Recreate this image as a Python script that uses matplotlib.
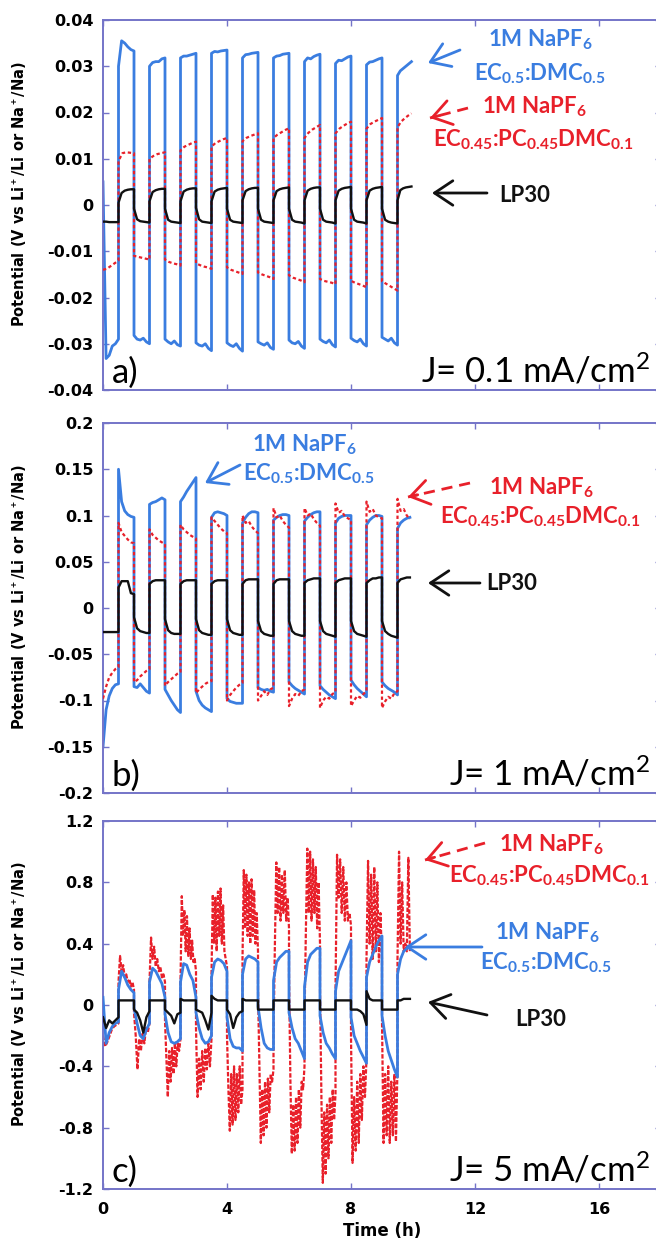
import numpy as np
import matplotlib
matplotlib.use("Agg")
import matplotlib.pyplot as plt
from matplotlib.lines import Line2D
from matplotlib.patches import FancyArrowPatch

# ------------------------------------------------------------------
# Galvanostatic cycling of symmetric cells (Li/Li for LP30, Na/Na for
# the NaPF6 electrolytes).  Each series is stored as half-cycle
# segments: "lo" = stripping (negative) half-cycles, "hi" = plating
# (positive) half-cycles.  Values in V, sampled evenly inside each
# half-cycle.
# ------------------------------------------------------------------
switch_times_h = [0.0, 0.5, 1.0, 1.5, 2.0, 2.5, 3.0, 3.5, 4.0, 4.5,
                  5.0, 5.5, 6.0, 6.5, 7.0, 7.5, 8.0, 8.5, 9.0, 9.5]
end_time_a_h = 9.95
end_time_b_h = 9.9
end_time_c_h = 9.9

# ---- (a) J = 0.1 mA/cm2 ----
a_blue_lo = [
    [0.0050, -0.0332, -0.0325, -0.0305, -0.0300, -0.0290],
    [-0.0282, -0.0290, -0.0292, -0.0288, -0.0296, -0.0300],
    [-0.0290, -0.0296, -0.0300, -0.0294, -0.0302, -0.0305],
    [-0.0298, -0.0303, -0.0305, -0.0300, -0.0310, -0.0315],
    [-0.0298, -0.0303, -0.0306, -0.0300, -0.0310, -0.0316],
    [-0.0296, -0.0300, -0.0303, -0.0298, -0.0308, -0.0312],
    [-0.0292, -0.0298, -0.0300, -0.0295, -0.0305, -0.0310],
    [-0.0290, -0.0295, -0.0298, -0.0292, -0.0302, -0.0307],
    [-0.0288, -0.0293, -0.0296, -0.0290, -0.0300, -0.0305],
    [-0.0286, -0.0290, -0.0294, -0.0288, -0.0298, -0.0303],
]
a_blue_hi = [
    [0.0300, 0.0355, 0.0350, 0.0342, 0.0336, 0.0333],
    [0.0300, 0.0308, 0.0310, 0.0310, 0.0316, 0.0318],
    [0.0318, 0.0322, 0.0322, 0.0324, 0.0326, 0.0328],
    [0.0328, 0.0332, 0.0331, 0.0333, 0.0334, 0.0335],
    [0.0318, 0.0325, 0.0326, 0.0328, 0.0329, 0.0330],
    [0.0318, 0.0322, 0.0323, 0.0326, 0.0327, 0.0328],
    [0.0310, 0.0318, 0.0316, 0.0321, 0.0324, 0.0326],
    [0.0306, 0.0313, 0.0312, 0.0316, 0.0320, 0.0322],
    [0.0303, 0.0309, 0.0310, 0.0313, 0.0316, 0.0318],
    [0.0280, 0.0290, 0.0295, 0.0300, 0.0305, 0.0310],
]
a_red_lo = [
    [-0.0140, -0.0138, -0.0132, -0.0126, -0.0120],
    [-0.0110, -0.0112, -0.0114, -0.0116, -0.0118],
    [-0.0118, -0.0123, -0.0126, -0.0128, -0.0131],
    [-0.0126, -0.0130, -0.0133, -0.0135, -0.0138],
    [-0.0135, -0.0140, -0.0143, -0.0146, -0.0149],
    [-0.0146, -0.0150, -0.0153, -0.0156, -0.0160],
    [-0.0152, -0.0157, -0.0160, -0.0163, -0.0167],
    [-0.0160, -0.0164, -0.0166, -0.0168, -0.0171],
    [-0.0164, -0.0168, -0.0171, -0.0174, -0.0178],
    [-0.0165, -0.0170, -0.0175, -0.0180, -0.0185],
]
a_red_hi = [
    [0.0095, 0.0112, 0.0114, 0.0113, 0.0112],
    [0.0100, 0.0106, 0.0110, 0.0112, 0.0114],
    [0.0118, 0.0126, 0.0130, 0.0134, 0.0137],
    [0.0126, 0.0134, 0.0138, 0.0142, 0.0145],
    [0.0138, 0.0145, 0.0149, 0.0152, 0.0155],
    [0.0145, 0.0152, 0.0157, 0.0162, 0.0166],
    [0.0145, 0.0156, 0.0163, 0.0168, 0.0173],
    [0.0155, 0.0165, 0.0171, 0.0176, 0.0180],
    [0.0165, 0.0175, 0.0180, 0.0184, 0.0188],
    [0.0168, 0.0180, 0.0187, 0.0193, 0.0198],
]
a_black_lo = [
    [-0.0036, -0.0036, -0.0037, -0.0037, -0.0037, -0.0037],
    [-0.0008, -0.0031, -0.0035, -0.0036, -0.0037, -0.0038],
    [-0.0008, -0.0032, -0.0036, -0.0037, -0.0038, -0.0039],
    [-0.0006, -0.0031, -0.0036, -0.0037, -0.0038, -0.0039],
    [-0.0008, -0.0032, -0.0036, -0.0037, -0.0038, -0.0039],
    [-0.0008, -0.0032, -0.0036, -0.0037, -0.0038, -0.0039],
    [-0.0008, -0.0032, -0.0036, -0.0037, -0.0038, -0.0040],
    [-0.0008, -0.0032, -0.0036, -0.0037, -0.0038, -0.0040],
    [-0.0008, -0.0032, -0.0036, -0.0037, -0.0038, -0.0040],
    [-0.0008, -0.0032, -0.0036, -0.0038, -0.0039, -0.0040],
]
a_black_hi = [
    [0.0005, 0.0026, 0.0031, 0.0033, 0.0034, 0.0034],
    [0.0008, 0.0028, 0.0032, 0.0034, 0.0035, 0.0035],
    [0.0008, 0.0029, 0.0033, 0.0035, 0.0036, 0.0036],
    [0.0008, 0.0029, 0.0033, 0.0035, 0.0036, 0.0037],
    [0.0010, 0.0030, 0.0034, 0.0036, 0.0037, 0.0037],
    [0.0010, 0.0030, 0.0034, 0.0036, 0.0037, 0.0038],
    [0.0010, 0.0031, 0.0035, 0.0037, 0.0038, 0.0038],
    [0.0010, 0.0031, 0.0035, 0.0037, 0.0038, 0.0039],
    [0.0010, 0.0031, 0.0035, 0.0037, 0.0038, 0.0039],
    [0.0010, 0.0032, 0.0036, 0.0038, 0.0039, 0.0040],
]

# ---- (b) J = 1 mA/cm2 ----
b_blue_lo = [
    [-0.150, -0.110, -0.095, -0.087, -0.083, -0.082],
    [-0.085, -0.086, -0.082, -0.086, -0.090, -0.092],
    [-0.088, -0.094, -0.100, -0.105, -0.110, -0.113],
    [-0.090, -0.100, -0.105, -0.108, -0.110, -0.112],
    [-0.098, -0.101, -0.102, -0.103, -0.103, -0.103],
    [-0.086, -0.088, -0.089, -0.088, -0.090, -0.091],
    [-0.080, -0.084, -0.087, -0.089, -0.091, -0.093],
    [-0.084, -0.088, -0.091, -0.094, -0.096, -0.098],
    [-0.078, -0.083, -0.087, -0.090, -0.093, -0.096],
    [-0.080, -0.084, -0.087, -0.089, -0.091, -0.094],
]
b_blue_hi = [
    [0.150, 0.115, 0.105, 0.101, 0.099, 0.098],
    [0.112, 0.114, 0.115, 0.117, 0.119, 0.117],
    [0.115, 0.120, 0.126, 0.131, 0.136, 0.141],
    [0.098, 0.103, 0.104, 0.103, 0.102, 0.100],
    [0.092, 0.098, 0.102, 0.104, 0.104, 0.103],
    [0.095, 0.098, 0.100, 0.101, 0.101, 0.100],
    [0.094, 0.098, 0.101, 0.103, 0.104, 0.104],
    [0.092, 0.097, 0.099, 0.100, 0.100, 0.100],
    [0.090, 0.095, 0.098, 0.100, 0.100, 0.099],
    [0.086, 0.092, 0.095, 0.097, 0.098],
]
b_red_lo = [
    [-0.098, -0.085, -0.075, -0.070, -0.066, -0.064],
    [-0.080, -0.078, -0.074, -0.071, -0.068, -0.066],
    [-0.084, -0.080, -0.077, -0.074, -0.071, -0.069],
    [-0.092, -0.088, -0.085, -0.082, -0.080, -0.079],
    [-0.100, -0.094, -0.090, -0.086, -0.083, -0.081],
    [-0.100, -0.095, -0.090, -0.094, -0.088, -0.086],
    [-0.106, -0.098, -0.093, -0.095, -0.090, -0.088],
    [-0.108, -0.100, -0.096, -0.098, -0.093, -0.091],
    [-0.106, -0.100, -0.095, -0.097, -0.093, -0.090],
    [-0.108, -0.101, -0.096, -0.098, -0.092, -0.090],
]
b_red_hi = [
    [0.092, 0.082, 0.078, 0.074, 0.071, 0.070],
    [0.085, 0.079, 0.076, 0.073, 0.071, 0.069],
    [0.090, 0.085, 0.082, 0.079, 0.077, 0.075],
    [0.098, 0.094, 0.090, 0.086, 0.083, 0.081],
    [0.100, 0.092, 0.094, 0.088, 0.084, 0.081],
    [0.108, 0.098, 0.100, 0.094, 0.090, 0.087],
    [0.108, 0.100, 0.102, 0.096, 0.092, 0.089],
    [0.113, 0.103, 0.105, 0.099, 0.097, 0.095],
    [0.115, 0.104, 0.107, 0.100, 0.098, 0.097],
    [0.118, 0.105, 0.107, 0.100, 0.096],
]
b_black_lo = [
    [-0.026, -0.026, -0.026, -0.026, -0.026, -0.026],
    [-0.010, -0.022, -0.025, -0.026, -0.027, -0.027],
    [-0.012, -0.024, -0.027, -0.028, -0.028, -0.028],
    [-0.012, -0.024, -0.027, -0.028, -0.029, -0.029],
    [-0.012, -0.024, -0.027, -0.028, -0.029, -0.029],
    [-0.014, -0.025, -0.028, -0.029, -0.030, -0.030],
    [-0.014, -0.025, -0.028, -0.029, -0.030, -0.030],
    [-0.014, -0.025, -0.028, -0.029, -0.030, -0.031],
    [-0.014, -0.025, -0.028, -0.029, -0.030, -0.031],
    [-0.014, -0.025, -0.028, -0.030, -0.031, -0.032],
]
b_black_hi = [
    [0.022, 0.029, 0.029, 0.029, 0.016, 0.015],
    [0.026, 0.029, 0.030, 0.030, 0.030, 0.030],
    [0.026, 0.029, 0.030, 0.030, 0.030, 0.030],
    [0.026, 0.029, 0.030, 0.030, 0.030, 0.030],
    [0.026, 0.030, 0.031, 0.031, 0.031, 0.031],
    [0.026, 0.030, 0.031, 0.031, 0.031, 0.031],
    [0.027, 0.030, 0.031, 0.032, 0.032, 0.032],
    [0.027, 0.030, 0.031, 0.032, 0.032, 0.032],
    [0.027, 0.030, 0.032, 0.032, 0.033, 0.033],
    [0.027, 0.031, 0.032, 0.033, 0.033],
]

# ---- (c) J = 5 mA/cm2 ----
c_blue_lo = [
    [0.05, -0.25, -0.18, -0.14, -0.12, -0.11],
    [-0.02, -0.12, -0.20, -0.22, -0.16, -0.12],
    [-0.06, -0.18, -0.24, -0.25, -0.24, -0.22],
    [-0.05, -0.15, -0.22, -0.25, -0.24, -0.20],
    [-0.08, -0.22, -0.27, -0.28, -0.28, -0.30],
    [-0.01, -0.15, -0.25, -0.28, -0.29, -0.29],
    [-0.05, -0.15, -0.22, -0.25, -0.30, -0.35],
    [-0.07, -0.18, -0.25, -0.28, -0.32, -0.35],
    [-0.08, -0.20, -0.25, -0.30, -0.34, -0.38],
    [-0.07, -0.20, -0.30, -0.36, -0.42, -0.47],
]
c_blue_hi = [
    [0.10, 0.22, 0.18, 0.13, 0.10, 0.08],
    [0.15, 0.24, 0.22, 0.18, 0.14, 0.05],
    [0.15, 0.27, 0.26, 0.20, 0.16, 0.05],
    [0.18, 0.28, 0.30, 0.29, 0.27, 0.22],
    [0.20, 0.30, 0.32, 0.31, 0.30, 0.28],
    [0.16, 0.28, 0.31, 0.33, 0.35, 0.35],
    [0.12, 0.28, 0.33, 0.35, 0.37, 0.37],
    [0.09, 0.22, 0.27, 0.32, 0.37, 0.42],
    [0.18, 0.28, 0.33, 0.38, 0.42, 0.45],
    [0.20, 0.30, 0.35, 0.37, 0.38],
]
c_red_lo = [
    [-0.20, -0.27, -0.24, -0.20, -0.16, -0.14, -0.13, -0.12],
    [-0.05, -0.20, -0.42, -0.22, -0.30, -0.18, -0.25, -0.15, -0.18, -0.12],
    [-0.10, -0.35, -0.60, -0.30, -0.50, -0.28, -0.45, -0.25, -0.40, -0.25, -0.30, -0.22],
    [-0.15, -0.60, -0.35, -0.55, -0.30, -0.50, -0.28, -0.42, -0.25, -0.40, -0.22],
    [-0.20, -0.55, -0.82, -0.45, -0.78, -0.40, -0.75, -0.45, -0.70, -0.40, -0.65, -0.55],
    [0.10, -0.40, -0.90, -0.55, -0.85, -0.50, -0.80, -0.48, -0.70, -0.45, -0.50, -0.42],
    [0.20, -0.50, -0.97, -0.65, -0.95, -0.60, -0.90, -0.55, -0.80, -0.50, -0.55, -0.40],
    [0.10, -0.60, -1.16, -0.70, -1.10, -0.65, -1.00, -0.60, -0.90, -0.55, -0.75, -0.58],
    [-0.20, -1.03, -0.60, -0.95, -0.50, -0.90, -0.45, -0.75, -0.40, -0.60, -0.35],
    [-0.10, -0.90, -0.45, -0.85, -0.40, -0.90, -0.50, -0.85, -0.45, -0.89, -0.40],
]
c_red_hi = [
    [0.15, 0.32, 0.22, 0.26, 0.18, 0.20, 0.15, 0.17, 0.12, 0.15, 0.10],
    [0.15, 0.44, 0.30, 0.38, 0.25, 0.30, 0.22, 0.25, 0.18, 0.20, 0.15],
    [0.15, 0.71, 0.45, 0.62, 0.35, 0.58, 0.32, 0.50, 0.30, 0.42, 0.28, 0.30, 0.22],
    [0.20, 0.72, 0.40, 0.70, 0.35, 0.74, 0.45, 0.76, 0.40, 0.65, 0.35, 0.30, 0.25],
    [0.30, 0.88, 0.50, 0.85, 0.45, 0.80, 0.40, 0.82, 0.45, 0.75, 0.40, 0.60, 0.35],
    [-0.20, 0.40, 0.93, 0.60, 0.90, 0.55, 0.85, 0.60, 0.88, 0.55, 0.70, 0.50],
    [-0.10, 0.50, 1.02, 0.60, 1.00, 0.55, 0.95, 0.60, 0.90, 0.50, 0.80, 0.40],
    [0.10, 0.98, 0.70, 0.95, 0.60, 0.90, 0.55, 0.80, 0.55, 0.60, 0.52],
    [0.30, 0.94, 0.40, 0.85, 0.30, 0.90, 0.35, 0.80, 0.28, 0.60, 0.30],
    [0.30, 1.00, 0.40, 0.80, 0.35, 0.40, 0.35, 0.96, 0.35],
]
c_black_lo = [
    [-0.08, -0.15, -0.10, -0.12, -0.10, -0.08],
    [-0.03, -0.05, -0.10, -0.18, -0.08, -0.04],
    [-0.03, -0.05, -0.07, -0.12, -0.06, -0.05],
    [-0.03, -0.04, -0.05, -0.10, -0.16, -0.05],
    [-0.03, -0.06, -0.15, -0.08, -0.05, -0.04],
    [-0.03, -0.03, -0.03, -0.03, -0.03, -0.03],
    [-0.03, -0.03, -0.03, -0.03, -0.03, -0.03],
    [-0.03, -0.03, -0.03, -0.03, -0.03, -0.03],
    [-0.03, -0.03, -0.03, -0.04, -0.06, -0.13],
    [-0.03, -0.03, -0.03, -0.03, -0.03, -0.03],
]
c_black_hi = [
    [0.03, 0.03, 0.03, 0.03, 0.03, 0.03],
    [0.03, 0.03, 0.03, 0.03, 0.03, 0.03],
    [0.04, 0.03, 0.03, 0.03, 0.03, 0.03],
    [0.06, 0.04, 0.03, 0.03, 0.03, 0.03],
    [0.04, 0.03, 0.03, 0.03, 0.03, 0.03],
    [0.03, 0.03, 0.03, 0.03, 0.03, 0.03],
    [0.03, 0.03, 0.03, 0.03, 0.03, 0.03],
    [0.03, 0.03, 0.03, 0.03, 0.03, 0.03],
    [0.09, 0.04, 0.03, 0.03, 0.03, 0.03],
    [0.03, 0.03, 0.04, 0.04, 0.04],
]

# axis scales and labels
x_limits = (0, 18)
x_ticks = [0, 4, 8, 12, 16]
a_y_ticks = [-0.04, -0.03, -0.02, -0.01, 0, 0.01, 0.02, 0.03, 0.04]
b_y_ticks = [-0.2, -0.15, -0.1, -0.05, 0, 0.05, 0.1, 0.15, 0.2]
c_y_ticks = [-1.2, -0.8, -0.4, 0, 0.4, 0.8, 1.2]
current_labels = ["J= 0.1 mA/cm$\\mathrm{^2}$", "J= 1 mA/cm$\\mathrm{^2}$",
                  "J= 5 mA/cm$\\mathrm{^2}$"]
panel_letters = ["a)", "b)", "c)"]

# ------------------------------------------------------------------
BLUE = "#3a7de0"
RED = "#e8202a"
BLACK = "#111111"
FRAME = "#7474c8"
W, H = 656, 1243

plt.rcParams["mathtext.fontset"] = "custom"
plt.rcParams["mathtext.rm"] = "Lato"
plt.rcParams["mathtext.bf"] = "Lato:bold"
plt.rcParams["mathtext.default"] = "bf"


def trace(lo_segments, hi_segments, end_h):
    """Concatenate the half-cycle samples into one time/potential trace."""
    ts, vs = [], []
    for k, start in enumerate(switch_times_h):
        seg = lo_segments[k // 2] if k % 2 == 0 else hi_segments[k // 2]
        stop = switch_times_h[k + 1] if k + 1 < len(switch_times_h) else end_h
        ts.extend(np.linspace(start, stop, len(seg)))
        vs.extend(seg)
    return np.array(ts), np.array(vs)


def fig_xy(x, y):
    return (x / W, 1 - y / H)


fig = plt.figure(figsize=(W / 100, H / 100), dpi=100)

# axes boxes in pixel units: left, top, right, bottom
boxes = [(103, 20, 661, 390), (103, 423, 661, 793), (103, 821, 661, 1189)]
axes = []
for (l, t, r, b) in boxes:
    ax = fig.add_axes([l / W, 1 - b / H, (r - l) / W, (b - t) / H])
    axes.append(ax)

panels = [
    (a_blue_lo, a_blue_hi, a_red_lo, a_red_hi, a_black_lo, a_black_hi, end_time_a_h, a_y_ticks),
    (b_blue_lo, b_blue_hi, b_red_lo, b_red_hi, b_black_lo, b_black_hi, end_time_b_h, b_y_ticks),
    (c_blue_lo, c_blue_hi, c_red_lo, c_red_hi, c_black_lo, c_black_hi, end_time_c_h, c_y_ticks),
]

tick_font = dict(family="DejaVu Sans", weight="bold", size=11.5)

for i, (ax, p) in enumerate(zip(axes, panels)):
    blo, bhi, rlo, rhi, klo, khi, end_h, yt = p
    tb, vb = trace(blo, bhi, end_h)
    tr, vr = trace(rlo, rhi, end_h)
    tk, vk = trace(klo, khi, end_h)
    if i < 2:
        ax.plot(tb, vb, color=BLUE, lw=2.0, zorder=2)
        ax.plot(tr, vr, color=RED, lw=1.6, ls=(0, (1.5, 1.2)), zorder=3)
    else:
        ax.plot(tr, vr, color=RED, lw=1.6, ls=(0, (2, 0.8)), zorder=2)
        ax.plot(tb, vb, color=BLUE, lw=2.0, zorder=3)
    ax.plot(tk, vk, color=BLACK, lw=1.7, zorder=4)

    ax.set_xlim(*x_limits)
    ax.set_ylim(yt[0], yt[-1])
    ax.set_xticks(x_ticks)
    ax.set_yticks(yt)
    ax.set_yticklabels([f"{v:g}" for v in yt], **tick_font)
    if i == 2:
        ax.set_xticklabels([str(v) for v in x_ticks], **tick_font)
        ax.set_xlabel("Time (h)", family="DejaVu Sans", weight="bold", size=12, labelpad=4)
    else:
        ax.set_xticklabels([])
    ax.tick_params(direction="in", length=4, width=1, color=FRAME,
                   top=True, right=True, pad=7)
    ax.tick_params(axis="x", pad=9)
    for s in ax.spines.values():
        s.set_color(FRAME)
        s.set_linewidth(1.4)
    ax.set_ylabel("Potential (V vs Li$\\mathbf{^+}$/Li or Na$\\mathbf{^+}$/Na)",
                  family="DejaVu Sans", weight="bold", size=10.5)
    ax.yaxis.set_label_coords(-0.134, 0.53)

    ax.text(0.016, 0.02, panel_letters[i], transform=ax.transAxes,
            family="Lato", size=25, ha="left", va="baseline")
    ax.text(547 / 558, 0.02, current_labels[i], transform=ax.transAxes,
            family="Lato", size=25, ha="right", va="baseline")

# ---- electrolyte labels and arrows ----
lbl = dict(family="Lato", weight="bold", size=16, ha="center", va="center")
na_salt = "1M NaPF$_6$"
ec_dmc = "EC$_{0.5}$:DMC$_{0.5}$"
ec_pc_dmc = "EC$_{0.45}$:PC$_{0.45}$DMC$_{0.1}$"


def arrow(tail, head, color, dashed=False):
    """Pointer from a label to its curve; dashed shaft keeps a solid head."""
    if dashed:
        (x0, y0), (x1, y1) = tail, head
        fig.add_artist(Line2D([x0 / W, x1 / W], [1 - y0 / H, 1 - y1 / H],
                              transform=fig.transFigure, color=color, lw=2,
                              ls=(0, (4, 2.5))))
        f = 10 / np.hypot(x1 - x0, y1 - y0)
        tail = (x1 - (x1 - x0) * f, y1 - (y1 - y0) * f)
    fig.add_artist(FancyArrowPatch(
        fig_xy(*tail), fig_xy(*head), transform=fig.transFigure,
        arrowstyle="->,head_length=6,head_width=4", lw=2, color=color,
        mutation_scale=2.2, shrinkA=0, shrinkB=0))


# panel a
fig.text(*fig_xy(540, 40), na_salt, color=BLUE, **lbl)
fig.text(*fig_xy(540, 74), ec_dmc, color=BLUE, **lbl)
fig.text(*fig_xy(534, 107), na_salt, color=RED, **lbl)
fig.text(*fig_xy(533, 140), ec_pc_dmc, color=RED, **lbl)
fig.text(*fig_xy(525, 195), "LP30", color=BLACK, **lbl)
arrow((460, 50), (428, 63), BLUE)
arrow((468, 108), (430, 118), RED, dashed=True)
arrow((487, 193), (432, 193), BLACK)

# panel b
fig.text(*fig_xy(304, 445), na_salt, color=BLUE, **lbl)
fig.text(*fig_xy(309, 474), ec_dmc, color=BLUE, **lbl)
fig.text(*fig_xy(541, 488), na_salt, color=RED, **lbl)
fig.text(*fig_xy(540, 517), ec_pc_dmc, color=RED, **lbl)
fig.text(*fig_xy(512, 583), "LP30", color=BLACK, **lbl)
arrow((240, 465), (205, 483), BLUE)
arrow((470, 483), (408, 497), RED, dashed=True)
arrow((480, 583), (428, 583), BLACK)

# panel c
fig.text(*fig_xy(551, 845), na_salt, color=RED, **lbl)
fig.text(*fig_xy(549, 876), ec_pc_dmc, color=RED, **lbl)
fig.text(*fig_xy(547, 933), na_salt, color=BLUE, **lbl)
fig.text(*fig_xy(546, 963), ec_dmc, color=BLUE, **lbl)
fig.text(*fig_xy(541, 1019), "LP30", color=BLACK, **lbl)
arrow((485, 843), (425, 860), RED, dashed=True)
arrow((482, 947), (405, 947), BLUE)
arrow((487, 1015), (428, 1002), BLACK)

fig.savefig("out.png", dpi=100)
